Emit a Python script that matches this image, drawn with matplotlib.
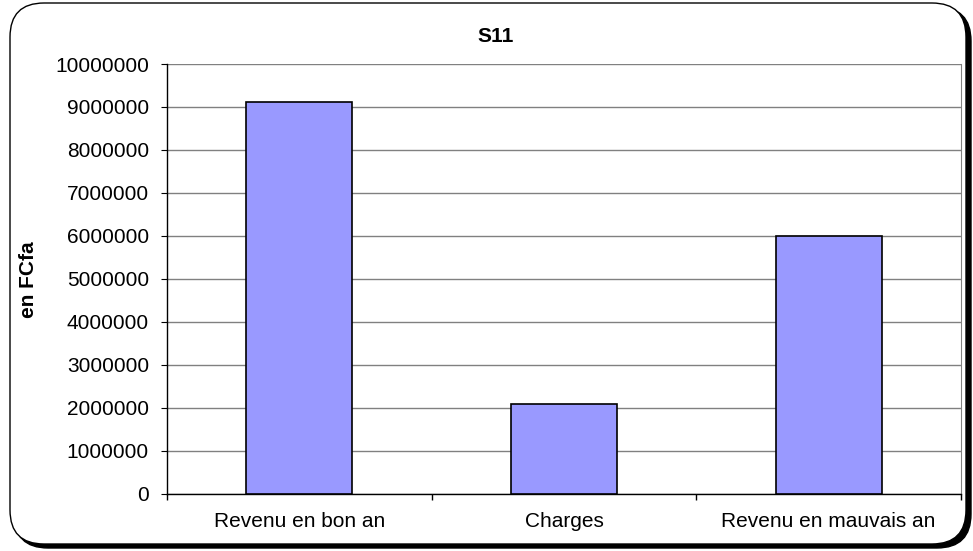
import matplotlib
matplotlib.use("Agg")
import matplotlib.pyplot as plt
from matplotlib.patches import FancyBboxPatch
from matplotlib.ticker import MultipleLocator, FixedLocator
import numpy as np

plt.rcParams['font.family'] = ['Liberation Sans', 'DejaVu Sans']

# donnees
categories = ["Revenu en bon an", "Charges", "Revenu en mauvais an"]
valeurs = [9120000, 2090000, 6005000]
titre = "S11"
ylabel = "en FCfa"

W, H = 973, 551
fig = plt.figure(figsize=(W / 100, H / 100), dpi=100)

# cadre arrondi avec ombre
sh = FancyBboxPatch((14 / W, 3 / H), 957 / W, 541 / H,
                    boxstyle="round,pad=0,rounding_size=0.035",
                    transform=fig.transFigure, facecolor="black",
                    edgecolor="black", linewidth=1.0, zorder=0,
                    mutation_aspect=W / H)
fig.patches.append(sh)
box = FancyBboxPatch((10 / W, 7 / H), 956 / W, 541 / H,
                     boxstyle="round,pad=0,rounding_size=0.035",
                     transform=fig.transFigure, facecolor="white",
                     edgecolor="black", linewidth=1.0, zorder=1,
                     mutation_aspect=W / H)
fig.patches.append(box)

ax = fig.add_axes([167 / W, 1 - 493.7 / H, (961 - 167) / W, (493.7 - 64) / H])
ax.set_zorder(2)
ax.patch.set_alpha(0)

x = np.arange(len(categories))
ax.bar(x, valeurs, width=0.4, color="#9999ff", edgecolor="black",
       linewidth=1.2, zorder=3)

ax.set_xlim(-0.5, 2.5)
ax.set_ylim(0, 10000000)
ax.yaxis.set_major_locator(MultipleLocator(1000000))
ax.yaxis.grid(True, color="#808080", linewidth=1.0, zorder=1)
ax.set_axisbelow(True)

ax.set_xticks(x)
ax.set_xticklabels(categories, fontsize=15)
ax.tick_params(axis="x", which="major", length=0, pad=13)
ax.xaxis.set_minor_locator(FixedLocator([-0.5, 0.5, 1.5, 2.5]))
ax.tick_params(axis="x", which="minor", length=4, direction="out", width=1)
ax.tick_params(axis="y", length=4, direction="out", labelsize=15, pad=9)
ax.yaxis.set_major_formatter(matplotlib.ticker.FuncFormatter(lambda v, p: f"{int(v)}"))

for s in ["left", "bottom"]:
    ax.spines[s].set_color("black")
    ax.spines[s].set_linewidth(1.0)
ax.spines["top"].set_visible(False)
ax.spines["right"].set_color("#808080")

fig.text(496 / W, 1 - 37 / H, titre, ha="center", va="center",
         fontsize=15, fontweight="bold")
fig.text(28 / W, 1 - 280 / H, ylabel, ha="center", va="center",
         rotation=90, fontsize=15, fontweight="bold")

fig.savefig("out.png", dpi=100)
